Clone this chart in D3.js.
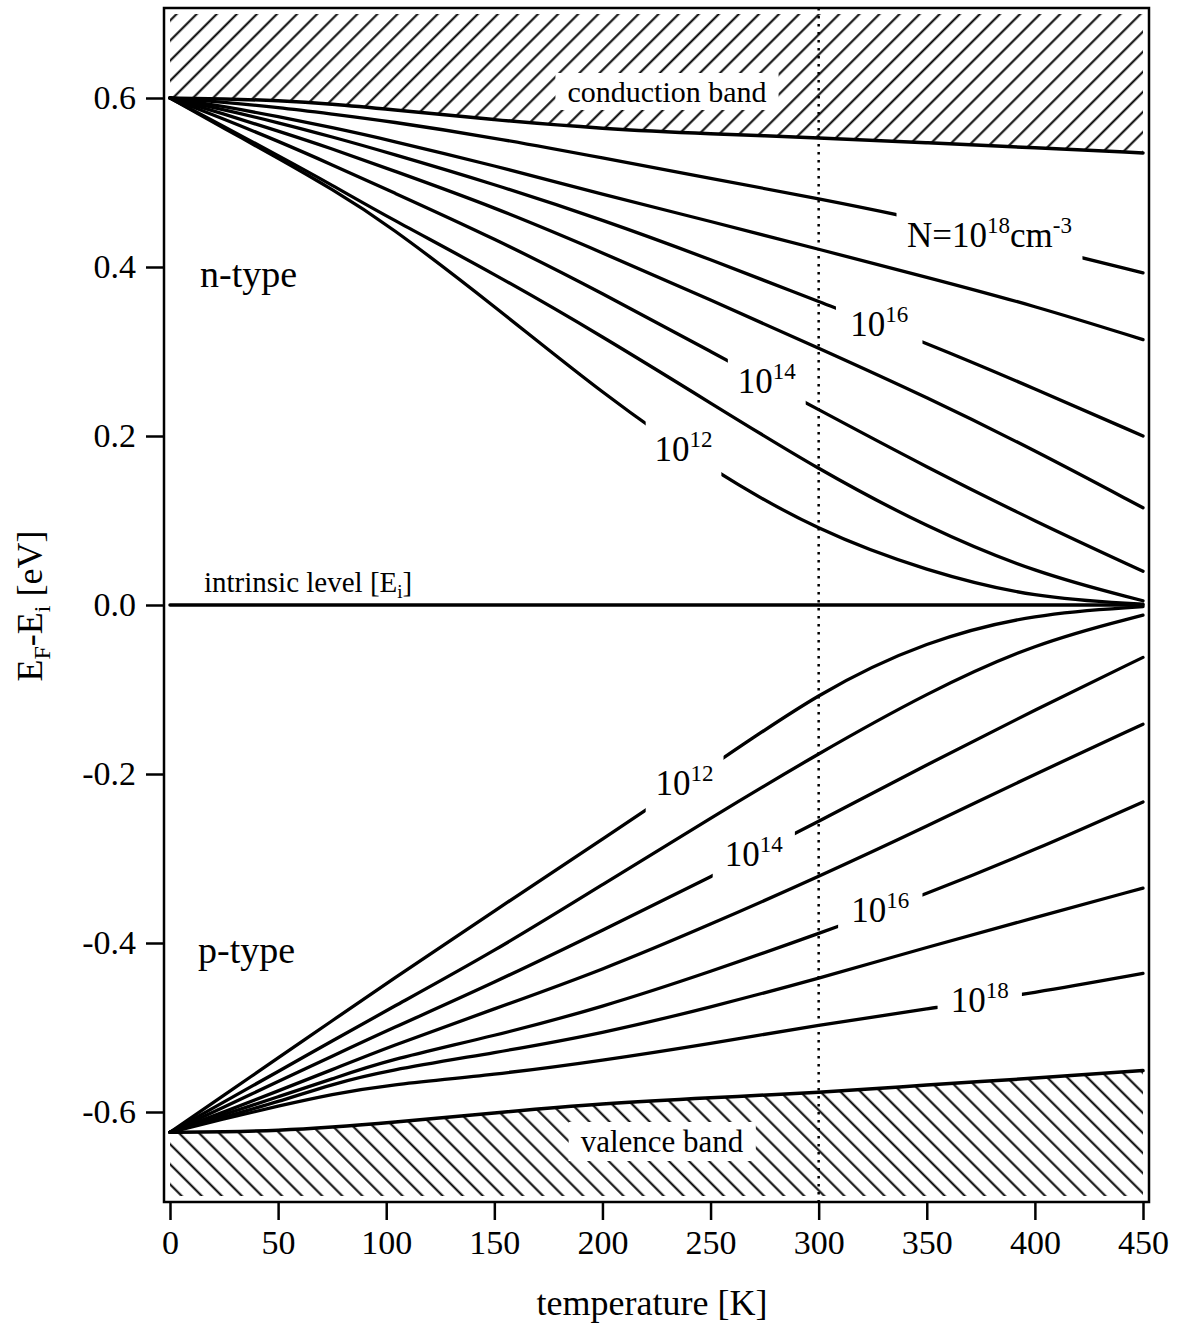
<!DOCTYPE html>
<html><head><meta charset="utf-8">
<script src="https://cdn.jsdelivr.net/npm/d3@7"></script>
<style>
html,body{margin:0;padding:0;background:#fff;}
svg text{font-family:"Liberation Serif","Times New Roman",serif;fill:#000;}
</style></head><body>
<svg id="chart" width="1177" height="1326"></svg>
<script>
// ---------- data ----------
const temperatures   = [0, 25, 50, 75, 100, 150, 200, 250, 300, 350, 400, 450];
const conductionEdge = [0.600, 0.599, 0.597, 0.593, 0.587, 0.574, 0.5635, 0.5575, 0.553, 0.547, 0.541, 0.535];
const valenceEdge    = [-0.624, -0.6235, -0.622, -0.618, -0.613, -0.601, -0.590, -0.583, -0.577, -0.568, -0.560, -0.551];
const intrinsicLevel = [0, 0, 0, 0, 0, 0, 0, 0, 0, 0, 0, 0];

const n18 = [0.600, 0.595, 0.589, 0.581, 0.573, 0.553, 0.529, 0.505, 0.481, 0.455, 0.425, 0.393];
const n17 = [0.600, 0.590, 0.578, 0.565, 0.551, 0.520, 0.486, 0.454, 0.421, 0.388, 0.354, 0.314];
const n16 = [0.600, 0.586, 0.571, 0.554, 0.536, 0.498, 0.456, 0.409, 0.359, 0.310, 0.256, 0.200];
const n15 = [0.600, 0.581, 0.561, 0.540, 0.517, 0.471, 0.417, 0.361, 0.304, 0.246, 0.183, 0.115];
const n14 = [0.600, 0.575, 0.549, 0.521, 0.492, 0.434, 0.369, 0.300, 0.231, 0.163, 0.099, 0.040];
const n13 = [0.600, 0.566, 0.532, 0.497, 0.460, 0.392, 0.318, 0.239, 0.160, 0.092, 0.038, 0.005];
const n12 = [0.600, 0.564, 0.529, 0.492, 0.452, 0.354, 0.250, 0.160, 0.087, 0.040, 0.008, 0.001];

const p12 = [-0.624, -0.580, -0.536, -0.492, -0.448, -0.362, -0.277, -0.192, -0.103, -0.042, -0.010, -0.002];
const p13 = [-0.624, -0.588, -0.552, -0.516, -0.480, -0.410, -0.331, -0.252, -0.1755, -0.104, -0.045, -0.012];
const p14 = [-0.624, -0.594, -0.564, -0.534, -0.504, -0.447, -0.385, -0.322, -0.256, -0.189, -0.124, -0.062];
const p15 = [-0.624, -0.600, -0.575, -0.550, -0.524, -0.478, -0.432, -0.378, -0.3215, -0.262, -0.200, -0.141];
const p16 = [-0.624, -0.603, -0.582, -0.561, -0.539, -0.510, -0.476, -0.434, -0.389, -0.342, -0.290, -0.233];
const p17 = [-0.624, -0.606, -0.588, -0.567, -0.551, -0.530, -0.507, -0.476, -0.442, -0.405, -0.370, -0.335];
const p18 = [-0.624, -0.608, -0.593, -0.579, -0.568, -0.556, -0.539, -0.519, -0.497, -0.478, -0.459, -0.436];

const xTicks = [0, 50, 100, 150, 200, 250, 300, 350, 400, 450];
const yTicks = [-0.6, -0.4, -0.2, 0.0, 0.2, 0.4, 0.6];
const yTickLabels = ["-0.6", "-0.4", "-0.2", "0.0", "0.2", "0.4", "0.6"];
const roomTemperature = 300;

// curve labels: text pieces and the temperature interval where the curve is interrupted
const curveLabels = [
  {series: "n18", base: "N=10", exp: "18", tail: "cm", tailExp: "-3", gap: [336, 422]},
  {series: "n16", base: "10", exp: "16", gap: [308, 348]},
  {series: "n14", base: "10", exp: "14", gap: [258, 294]},
  {series: "n12", base: "10", exp: "12", gap: [220, 255]},
  {series: "p12", base: "10", exp: "12", gap: [220, 256]},
  {series: "p14", base: "10", exp: "14", gap: [251, 289]},
  {series: "p16", base: "10", exp: "16", gap: [309, 348]},
  {series: "p18", base: "10", exp: "18", gap: [355, 394]}
];

const seriesTable = {n18, n17, n16, n15, n14, n13, n12, p12, p13, p14, p15, p16, p17, p18};
const seriesOrder = ["n18","n17","n16","n15","n14","n13","n12","p12","p13","p14","p15","p16","p17","p18"];

// ---------- layout ----------
const W = 1177, H = 1326;
const frame = {left: 164, right: 1149, top: 8, bottom: 1202};
const svg = d3.select("#chart");

const x = d3.scaleLinear().domain([0, 450]).range([170, 1143]);
const y = d3.scaleLinear().domain([-0.6, 0.6]).range([1112, 98]);
const smooth = d3.curveBasis;

const defs = svg.append("defs");
function hatch(id, angle) {
  const p = defs.append("pattern").attr("id", id)
    .attr("patternUnits", "userSpaceOnUse")
    .attr("width", 14.2).attr("height", 14.2)
    .attr("patternTransform", `rotate(${angle})`);
  p.append("line").attr("x1", 7).attr("y1", -1).attr("x2", 7).attr("y2", 15.2)
    .attr("stroke", "#000").attr("stroke-width", 2);
}
hatch("hatchUp", 45);
hatch("hatchDown", -45);

defs.append("clipPath").attr("id", "hatchClip").append("rect")
  .attr("x", frame.left + 6).attr("y", frame.top + 6)
  .attr("width", frame.right - frame.left - 12).attr("height", frame.bottom - frame.top - 12);

// ---------- bands ----------
const hatchG = svg.append("g").attr("clip-path", "url(#hatchClip)");
hatchG.append("path").datum(conductionEdge)
  .attr("d", d3.area().x((d, i) => x(temperatures[i])).y0(frame.top).y1(d => y(d)).curve(smooth))
  .attr("fill", "url(#hatchUp)");
hatchG.append("path").datum(valenceEdge)
  .attr("d", d3.area().x((d, i) => x(temperatures[i])).y0(d => y(d)).y1(frame.bottom).curve(smooth))
  .attr("fill", "url(#hatchDown)");

function boxedText(txt, cx, baseline, size) {
  const t = svg.append("text").attr("x", cx).attr("y", baseline)
    .attr("text-anchor", "middle").attr("font-size", size).text(txt);
  const b = t.node().getBBox();
  svg.insert("rect", () => t.node())
    .attr("x", b.x - 12).attr("y", b.y - 2).attr("width", b.width + 24).attr("height", b.height + 4)
    .attr("fill", "#fff");
}
boxedText("conduction band", 667, 102, 30);
boxedText("valence band", 662, 1152, 31);

// ---------- room temperature dotted line ----------
svg.append("line")
  .attr("x1", x(roomTemperature)).attr("x2", x(roomTemperature))
  .attr("y1", frame.top).attr("y2", frame.bottom)
  .attr("stroke", "#000").attr("stroke-width", 2.5).attr("stroke-dasharray", "2.5,5.5");

// ---------- curves ----------
const line = d3.line().x((d, i) => x(temperatures[i])).y(d => y(d)).curve(smooth);
const curvesG = svg.append("g").attr("fill", "none").attr("stroke", "#000")
  .attr("stroke-linejoin", "round").attr("stroke-linecap", "round");

curvesG.append("path").datum(conductionEdge).attr("d", line).attr("stroke-width", 3.5);
curvesG.append("path").datum(valenceEdge).attr("d", line).attr("stroke-width", 3.5);
curvesG.append("path").datum(intrinsicLevel).attr("d", line).attr("stroke-width", 3.5);

const labelBySeries = {};
curveLabels.forEach(l => labelBySeries[l.series] = l);

seriesOrder.forEach(name => {
  const data = seriesTable[name];
  const p = curvesG.append("path").datum(data).attr("d", line).attr("stroke-width", 3.3);
  const lab = labelBySeries[name];
  if (lab) {
    const cp = defs.append("clipPath").attr("id", "gap-" + name);
    cp.append("rect").attr("x", 0).attr("y", 0).attr("width", x(lab.gap[0])).attr("height", H);
    cp.append("rect").attr("x", x(lab.gap[1])).attr("y", 0).attr("width", W - x(lab.gap[1])).attr("height", H);
    p.attr("clip-path", `url(#gap-${name})`);
  }
});

// ---------- curve labels ----------
curveLabels.forEach(l => {
  const interp = d3.scaleLinear().domain(temperatures).range(seriesTable[l.series]);
  const x1 = x(l.gap[0]), y1 = y(interp(l.gap[0]));
  const x2 = x(l.gap[1]), y2 = y(interp(l.gap[1]));
  const cx = (x1 + x2) / 2, cy = (y1 + y2) / 2;
  const t = svg.append("text").attr("x", cx).attr("y", cy + 11)
    .attr("text-anchor", "middle").attr("font-size", 35);
  t.append("tspan").text(l.base);
  t.append("tspan").attr("font-size", 23).attr("dy", -14).text(l.exp);
  if (l.tail) {
    t.append("tspan").attr("font-size", 35).attr("dy", 14).text(l.tail);
    t.append("tspan").attr("font-size", 23).attr("dy", -14).text(l.tailExp);
  }
});

// ---------- other texts ----------
svg.append("text").attr("x", 200).attr("y", 287).attr("font-size", 38).text("n-type");
svg.append("text").attr("x", 198).attr("y", 963).attr("font-size", 38).text("p-type");
const il = svg.append("text").attr("x", 204).attr("y", 592).attr("font-size", 29);
il.append("tspan").text("intrinsic level [E");
il.append("tspan").attr("font-size", 19).attr("dy", 6).text("i");
il.append("tspan").attr("dy", -6).text("]");

// ---------- frame & axes ----------
svg.append("rect").attr("x", frame.left).attr("y", frame.top)
  .attr("width", frame.right - frame.left).attr("height", frame.bottom - frame.top)
  .attr("fill", "none").attr("stroke", "#000").attr("stroke-width", 2.5);

const xAxis = svg.append("g").attr("transform", `translate(0,${frame.bottom})`)
  .call(d3.axisBottom(x).tickValues(xTicks).tickSize(18).tickPadding(10).tickFormat(d3.format("d")));
const yAxis = svg.append("g").attr("transform", `translate(${frame.left},0)`)
  .call(d3.axisLeft(y).tickValues(yTicks).tickSize(18).tickPadding(10)
    .tickFormat((d, i) => yTickLabels[i]));
[xAxis, yAxis].forEach(a => {
  a.select(".domain").remove();
  a.selectAll(".tick line").attr("stroke", "#000").attr("stroke-width", 2.5);
  a.selectAll(".tick text").attr("font-size", 34).attr("font-family", "Liberation Serif").attr("fill", "#000");
});

svg.append("text").attr("x", 652).attr("y", 1315).attr("text-anchor", "middle")
  .attr("font-size", 36).text("temperature [K]");

const yl = svg.append("text").attr("transform", "translate(42,606) rotate(-90)")
  .attr("text-anchor", "middle").attr("font-size", 36);
yl.append("tspan").text("E");
yl.append("tspan").attr("font-size", 24).attr("dy", 8).text("F");
yl.append("tspan").attr("dy", -8).text("-E");
yl.append("tspan").attr("font-size", 24).attr("dy", 8).text("i");
yl.append("tspan").attr("dy", -8).text(" [eV]");
</script>
</body></html>
